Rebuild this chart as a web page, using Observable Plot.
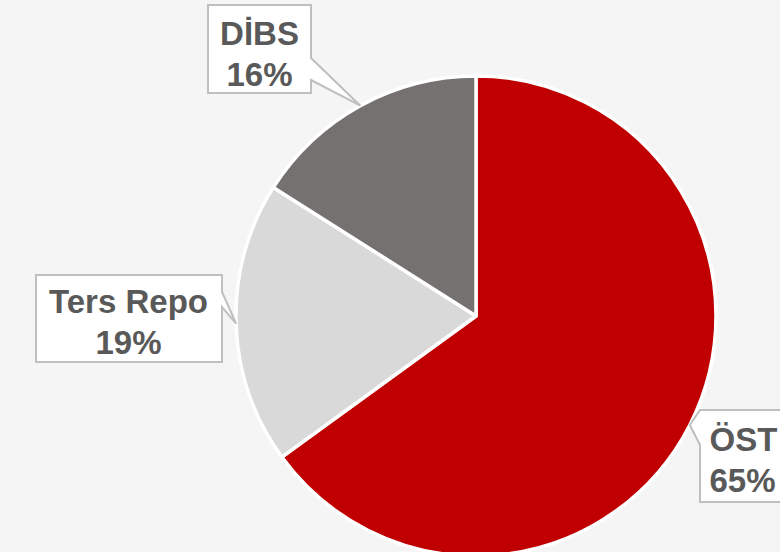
<!DOCTYPE html>
<html>
<head>
<meta charset="utf-8">
<script src="https://cdn.jsdelivr.net/npm/d3@7"></script>
<script src="https://cdn.jsdelivr.net/npm/@observablehq/plot@0.6"></script>
<style>
  html, body { margin: 0; padding: 0; background: #F5F5F5; }
  #chart { width: 780px; height: 552px; overflow: hidden; }
</style>
</head>
<body>
<div id="chart"></div>
<script>
// ---- data ----
const categories = ["ÖST", "Ters Repo", "DİBS"];
const values = [65, 19, 16];
const percentLabels = ["65%", "19%", "16%"];
const colors = ["#C00000", "#D9D9D9", "#767171"];

// ---- layout (positions/sizes only) ----
const W = 780, H = 552;
const cx = 476, cy = 316, R = 240;
const boxLayout = [
  { x0: 700, y0: 410, x1: 820, y1: 502, side: "left",  b0: 410, b1: 445, tx: 709, ty: 458, anchor: "start" },
  { x0: 36,  y0: 275, x1: 222, y1: 362, side: "right", b0: 292, b1: 307, tx: 128, ty: 320, anchor: "middle" },
  { x0: 208, y0: 5,   x1: 311, y1: 93,  side: "right", b0: 58,  b1: 80,  tx: 259, ty: 52, anchor: "middle" }
];

const rows = categories.map((c, i) => ({ category: c, value: values[i], pct: percentLabels[i], color: colors[i], ...boxLayout[i] }));

const pie = d3.pie().sort(null).value(d => d.value).startAngle(0).endAngle(2 * Math.PI);
const arcs = pie(rows);

function pieMark(index, scales) {
  const g = d3.create("svg:g");
  const X = scales.x, Y = scales.y;
  const arcGen = d3.arc().innerRadius(0).outerRadius(R);
  g.attr("transform", `translate(${X(cx)},${Y(cy)})`);
  g.selectAll("path").data(arcs).join("path")
    .attr("d", arcGen)
    .attr("fill", d => d.data.color)
    .attr("stroke", "#FFFFFF")
    .attr("stroke-width", 3.5)
    .attr("stroke-linejoin", "round");
  return g.node();
}

function boxMark(index, scales) {
  const g = d3.create("svg:g");
  const X = scales.x, Y = scales.y;
  arcs.forEach(a => {
    const d = a.data;
    const mid = (a.startAngle + a.endAngle) / 2;
    const tipX = X(cx + Math.sin(mid) * R);
    const tipY = Y(cy - Math.cos(mid) * R);
    const x0 = X(d.x0), x1 = X(d.x1), y0 = Y(d.y0), y1 = Y(d.y1), b0 = Y(d.b0), b1 = Y(d.b1);
    let p;
    if (d.side === "right") {
      p = `M${x0},${y0}H${x1}V${b0}L${tipX},${tipY}L${x1},${b1}V${y1}H${x0}Z`;
    } else {
      p = `M${x0},${y0}H${x1}V${y1}H${x0}V${b1}L${tipX},${tipY}L${x0},${b0}Z`;
    }
    g.append("path")
      .attr("d", p)
      .attr("fill", "#FFFFFF")
      .attr("stroke", "#BFBFBF")
      .attr("stroke-width", 2)
      .attr("stroke-linejoin", "miter");
  });
  return g.node();
}

const textStyle = {
  x: "tx",
  y: "ty",
  text: d => d.category + "\n" + d.pct,
  lineAnchor: "middle",
  lineHeight: 1.22,
  fontSize: 33,
  fontWeight: "bold",
  fontFamily: "Liberation Sans, Arial, sans-serif",
  fill: "#595959"
};

const chart = Plot.plot({
  width: W,
  height: H,
  margin: 0,
  x: { domain: [0, W], range: [0, W], axis: null },
  y: { domain: [0, H], range: [0, H], axis: null },
  style: { background: "#F5F5F5", overflow: "hidden" },
  marks: [
    pieMark,
    boxMark,
    Plot.text(rows.filter(d => d.anchor === "middle"), { ...textStyle, textAnchor: "middle" }),
    Plot.text(rows.filter(d => d.anchor === "start"), { ...textStyle, textAnchor: "start" })
  ]
});

document.getElementById("chart").appendChild(chart);
</script>
</body>
</html>
